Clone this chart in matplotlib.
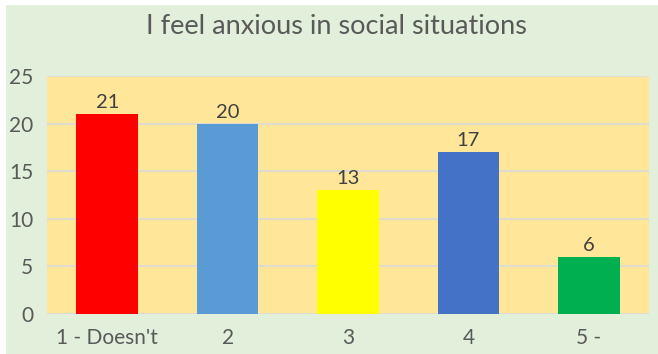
import numpy as np
import matplotlib.pyplot as plt
from matplotlib.patches import Rectangle

plt.rcParams['font.family'] = ['Lato', 'DejaVu Sans']

categories = ["1 - Doesn't", "2", "3", "4", "5 -"]
counts = [21, 20, 13, 17, 6]
colors = ['#FF0000', '#5B9BD5', '#FFFF00', '#4472C4', '#00B050']
yticks = [0, 5, 10, 15, 20, 25]

W, H = 658, 354
fig = plt.figure(figsize=(W / 100, H / 100), dpi=100, facecolor='white')
# green chart area, small white strip top/left
fig.patches.append(Rectangle((6 / W, 0), 1, 1 - 5 / H, transform=fig.transFigure,
                             facecolor='#E2EFDA', edgecolor='none', zorder=-1))

ax = fig.add_axes([47 / W, 1 - 314 / H, 602 / W, 238 / H])
ax.set_facecolor('#FFE699')
x = np.arange(len(categories))
ax.bar(x, counts, width=0.51, color=colors, zorder=3)
for xi, v in zip(x, counts):
    ax.text(xi, v + 0.3, str(v), ha='center', va='bottom', fontsize=14.5, color='#404040')

ax.set_xlim(-0.5, len(categories) - 0.5)
ax.set_ylim(0, 25)
ax.set_yticks(yticks)
ax.set_xticks(x)
ax.set_xticklabels(categories)
ax.yaxis.grid(True, color='#D9D9D9', linewidth=1.2, zorder=0)
ax.tick_params(length=0, labelsize=15, labelcolor='#595959')
ax.tick_params(axis='x', pad=10)
ax.tick_params(axis='y', pad=10)
for s in ax.spines.values():
    s.set_visible(False)

fig.text(0.512, 1 - 26 / H, 'I feel anxious in social situations', ha='center', va='center',
         fontsize=19.5, color='#595959')

fig.savefig('out.png', dpi=100)
